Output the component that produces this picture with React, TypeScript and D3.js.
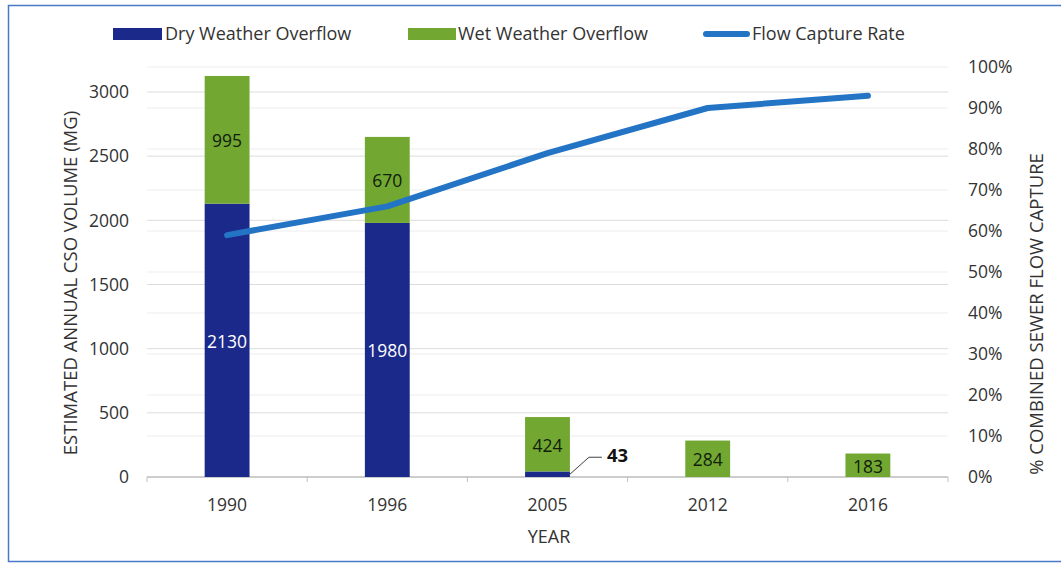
import React from "react";
import * as d3 from "d3";

// chart data
const years = ["1990", "1996", "2005", "2012", "2016"];
const dryOverflow = [2130, 1980, 43, 0, 0];
const wetOverflow = [995, 670, 424, 284, 183];
const captureRate = [59, 66, 79, 90, 93];
const leftTicks = [0, 500, 1000, 1500, 2000, 2500, 3000];
const rightTicks = [0, 10, 20, 30, 40, 50, 60, 70, 80, 90, 100];

const W = 1061;
const H = 564;
const margin = { top: 67, right: 113, bottom: 87, left: 147 };

const DRY = "#1b2a8a";
const WET = "#72a832";
const LINE = "#2474c6";
const TEXT = "#333333";
const FONT = "'Open Sans', Lato, sans-serif";
const NUM = 17.5; // tick / value labels
const WORD = 18; // legend, titles

const App = () => {
  const x = d3
    .scaleBand()
    .domain(years)
    .range([margin.left, W - margin.right])
    .paddingInner(0.72)
    .paddingOuter(0.36);

  // left axis: 0 -> 477, 3000 -> 92
  const y = d3.scaleLinear().domain([0, 3000]).range([H - margin.bottom, 92]);
  const yR = d3.scaleLinear().domain([0, 100]).range([H - margin.bottom, margin.top]);

  const cx = (yr: string) => (x(yr) as number) + x.bandwidth() / 2;
  const step = x.step();
  const x0 = margin.left;
  const x1 = W - margin.right;
  const base = y(0);

  const line = d3
    .line<number>()
    .x((_, i) => cx(years[i]))
    .y((d) => yR(d));

  return (
    <svg
      width={W}
      height={H}
      style={{ position: "absolute", left: 0, top: 0, background: "#fff", fontFamily: FONT }}
    >
      <rect x={8.5} y={5.5} width={W + 10} height={H - 8} fill="none" stroke="#4a78c8" strokeWidth={1.5} />

      {/* gridlines */}
      {rightTicks.map((t) => (
        <line key={"r" + t} x1={x0} x2={x1} y1={yR(t)} y2={yR(t)} stroke="#ededed" strokeWidth={1} />
      ))}
      {leftTicks.slice(1).map((t) => (
        <line key={"l" + t} x1={x0} x2={x1} y1={y(t)} y2={y(t)} stroke="#dcdcdc" strokeWidth={1} />
      ))}

      {/* x axis */}
      <line x1={x0} x2={x1} y1={base} y2={base} stroke="#bfbfbf" strokeWidth={1.5} />
      {d3.range(years.length + 1).map((i) => (
        <line
          key={"tk" + i}
          x1={x0 + i * step}
          x2={x0 + i * step}
          y1={base}
          y2={base + 5}
          stroke="#bfbfbf"
        />
      ))}

      {/* bars */}
      {years.map((yr, i) => (
        <g key={yr}>
          <rect
            x={x(yr)}
            width={x.bandwidth()}
            y={y(dryOverflow[i])}
            height={base - y(dryOverflow[i])}
            fill={DRY}
          />
          <rect
            x={x(yr)}
            width={x.bandwidth()}
            y={y(dryOverflow[i] + wetOverflow[i])}
            height={y(dryOverflow[i]) - y(dryOverflow[i] + wetOverflow[i])}
            fill={WET}
          />
        </g>
      ))}

      {/* bar labels */}
      {years.map((yr, i) => {
        const wetMid = (y(dryOverflow[i]) + y(dryOverflow[i] + wetOverflow[i])) / 2;
        const dryMid = (base + y(dryOverflow[i])) / 2;
        return (
          <g key={"lb" + yr} fontSize={NUM}>
            <text x={cx(yr)} y={wetMid + 1} dy="0.36em" textAnchor="middle" fill="#10200a">
              {wetOverflow[i]}
            </text>
            {dryOverflow[i] >= 500 && (
              <text x={cx(yr)} y={dryMid + 1} dy="0.36em" textAnchor="middle" fill="#ffffff">
                {dryOverflow[i]}
              </text>
            )}
          </g>
        );
      })}

      {/* small dry value callout */}
      {years.map((yr, i) => {
        const v = dryOverflow[i];
        if (v <= 0 || v >= 500) return null;
        const sx = (x(yr) as number) + x.bandwidth();
        const sy = (base + y(v)) / 2;
        return (
          <g key={"co" + yr}>
            <polyline
              points={`${sx},${sy} ${sx + 19},${sy - 17} ${sx + 32},${sy - 17}`}
              fill="none"
              stroke="#404040"
              strokeWidth={1}
            />
            <text x={sx + 37} y={sy - 19} dy="0.36em" fontSize={NUM + 1} fontWeight="bold" fill="#111">
              {v}
            </text>
          </g>
        );
      })}

      {/* capture rate line */}
      <path d={line(captureRate) || ""} fill="none" stroke={LINE} strokeWidth={6} strokeLinejoin="round" strokeLinecap="round" />

      {/* left ticks */}
      {leftTicks.map((t) => (
        <text key={"lt" + t} x={x0 - 18} y={y(t)} dy="0.36em" textAnchor="end" fontSize={NUM} fill={TEXT}>
          {t}
        </text>
      ))}
      {/* right ticks */}
      {rightTicks.map((t) => (
        <text key={"rt" + t} x={x1 + 20} y={yR(t)} dy="0.36em" textAnchor="start" fontSize={NUM} fill={TEXT}>
          {t + "%"}
        </text>
      ))}
      {/* x ticks */}
      {years.map((yr) => (
        <text key={"xt" + yr} x={cx(yr)} y={505} dy="0.36em" textAnchor="middle" fontSize={NUM} fill={TEXT}>
          {yr}
        </text>
      ))}

      {/* axis titles */}
      <text x={549} y={537} dy="0.36em" textAnchor="middle" fontSize={WORD} fill={TEXT}>
        YEAR
      </text>
      <text
        transform="translate(70,283) rotate(-90)"
        dy="0.36em"
        textAnchor="middle"
        fontSize={WORD + 0.5}
        fill={TEXT}
      >
        ESTIMATED ANNUAL CSO VOLUME (MG)
      </text>
      <text
        transform="translate(1036,314) rotate(-90)"
        dy="0.36em"
        textAnchor="middle"
        fontSize={WORD + 0.5}
        fill={TEXT}
      >
        % COMBINED SEWER FLOW CAPTURE
      </text>

      {/* legend */}
      <g fontSize={WORD} fill={TEXT}>
        <rect x={113} y={28} width={49} height={12} fill={DRY} />
        <text x={165} y={34} dy="0.36em">Dry Weather Overflow</text>
        <rect x={408} y={28} width={48} height={12} fill={WET} />
        <text x={458} y={34} dy="0.36em">Wet Weather Overflow</text>
        <line x1={706} x2={747} y1={34} y2={34} stroke={LINE} strokeWidth={6} strokeLinecap="round" />
        <text x={752} y={34} dy="0.36em">Flow Capture Rate</text>
      </g>
    </svg>
  );
};

export default App;
